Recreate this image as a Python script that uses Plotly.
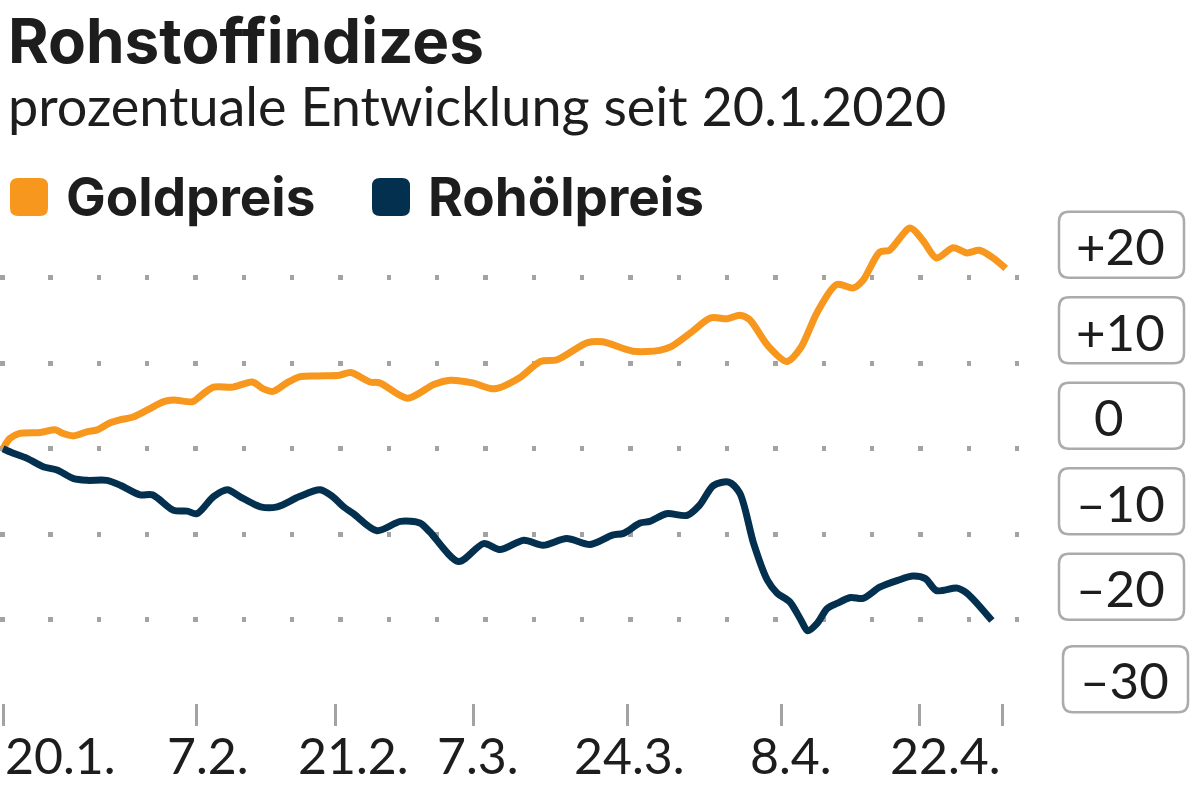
import plotly.graph_objects as go

# ---------------- data ----------------
title = "Rohstoffindizes"
subtitle = "prozentuale Entwicklung seit 20.1.2020"
series_names = ["Goldpreis", "Rohölpreis"]
series_colors = ["#F7971E", "#03304F"]

# x = trading-day index since 20.1.2020
gold_day = [0, 0.5, 1.2, 2.7, 3.8, 4.3, 5.1, 6.1, 6.8, 7.7, 8.5, 9.4, 10.4, 11.6, 12.3, 13.7,
            14.2, 15.2, 16.6, 18.0, 18.8, 19.5, 20.5, 21.4, 22.7, 24.3, 25.1, 26.5, 27.2, 29.2,
            31.1, 32.3, 33.9, 35.5, 37.3, 38.8, 40.0, 42.2, 43.3, 45.5, 47.4, 48.2, 49.6, 51.1,
            52.3, 53.2, 53.9, 55.2, 56.6, 57.6, 58.8, 60.2, 61.4, 62.1, 63.3, 64.0, 65.5, 66.4,
            67.4, 68.6, 69.6, 70.5, 71.5, 72.4]
gold_val = [0, 1.2, 1.8, 1.9, 2.2, 1.8, 1.5, 2.0, 2.2, 3.0, 3.4, 3.7, 4.5, 5.5, 5.7, 5.5,
            6.1, 7.2, 7.2, 7.8, 7.0, 6.7, 7.7, 8.4, 8.5, 8.6, 8.9, 7.8, 7.7, 5.9,
            7.5, 8.0, 7.7, 7.0, 8.3, 10.2, 10.4, 12.4, 12.5, 11.4, 11.5, 11.9, 13.5, 15.3,
            15.2, 15.6, 15.1, 12.1, 10.2, 11.8, 16.0, 19.2, 18.8, 19.7, 23.0, 23.2, 25.8, 24.4,
            22.3, 23.5, 22.9, 23.2, 22.3, 21.1]

oil_day = [0, 0.7, 1.7, 2.9, 3.9, 5.1, 6.1, 7.5, 8.5, 9.9, 10.8, 12.3, 13.3, 14.0, 15.2, 16.2,
           17.1, 18.6, 19.8, 21.4, 22.9, 23.8, 24.6, 25.3, 27.0, 28.7, 30.1, 30.8, 32.9, 34.7,
           35.9, 37.6, 39.0, 40.7, 42.4, 44.0, 44.8, 46.0, 46.7, 47.9, 49.4, 50.3, 51.3, 52.4,
           53.2, 54.2, 55.2, 55.9, 56.8, 57.6, 58.1, 58.8, 59.5, 60.2, 61.2, 62.1, 63.3, 64.6,
           65.7, 66.6, 67.4, 68.9, 69.6, 71.4]
oil_val = [0, -0.5, -1.1, -2.1, -2.5, -3.5, -3.7, -3.7, -4.3, -5.4, -5.4, -7.2, -7.3, -7.6, -5.6, -4.8,
           -5.6, -6.8, -6.8, -5.6, -4.8, -5.6, -6.8, -7.6, -9.6, -8.5, -8.7, -9.7, -13.2, -11.1,
           -11.8, -10.7, -11.3, -10.5, -11.2, -10.1, -9.9, -8.7, -8.5, -7.6, -7.8, -6.6, -4.3, -3.9,
           -5.2, -11.1, -15.4, -16.9, -17.9, -20.0, -21.3, -20.4, -18.7, -18.1, -17.4, -17.5, -16.2, -15.4,
           -14.9, -15.2, -16.6, -16.3, -16.9, -20.1]

y_ticks = [20, 10, 0, -10, -20, -30]
y_labels = ["+20", "+10", "0", "–10", "–20", "–30"]
x_tick_days = [0, 14, 24, 34, 45.1, 56.2, 66.2, 72.2]
x_label_days = [0, 14.8, 25.3, 34.3, 45.2, 56.9, 72.2]
x_labels = ["20.1.", "7.2.", "21.2.", "7.3.", "24.3.", "8.4.", "22.4."]

# ---------------- layout geometry ----------------
W, H = 1200, 811
PT, PW, PH = 218, 1020, 485
Y0, Y1 = -29.74, 26.98
X0, X1 = -0.217, 73.43
TXT = "#1d1d1d"
GRID = "#a3a3a3"


def pxx(px):
    return px / PW


def pxy(py):
    return (PT + PH - py) / PH


def vy(v):
    return (v - Y0) / (Y1 - Y0)


def rounded_rect(w, h, r, y0=0):
    y1 = y0 + h
    return (f"M {r},{y0} L {w-r},{y0} Q {w},{y0} {w},{y0+r} L {w},{y1-r} Q {w},{y1} {w-r},{y1} "
            f"L {r},{y1} Q 0,{y1} 0,{y1-r} L 0,{y0+r} Q 0,{y0} {r},{y0} Z")


fig = go.Figure()
for name, color, xs, ys in [(series_names[0], series_colors[0], gold_day, gold_val),
                            (series_names[1], series_colors[1], oil_day, oil_val)]:
    fig.add_trace(go.Scatter(x=xs, y=ys, mode="lines", name=name,
                             line=dict(color=color, width=7, shape="spline", smoothing=0.8),
                             showlegend=False, hoverinfo="skip"))

shapes = []
annotations = []

# title & subtitle
annotations.append(dict(text="<b>" + title + "</b>", xref="paper", yref="paper",
                        x=pxx(6), y=pxy(41), xanchor="left", yanchor="middle", showarrow=False,
                        font=dict(family="Inter", size=62, color=TXT)))
annotations.append(dict(text=subtitle, xref="paper", yref="paper",
                        x=pxx(6), y=pxy(106), xanchor="left", yanchor="middle", showarrow=False,
                        font=dict(family="Lato", size=54, color=TXT)))

# legend
leg_sq_x = [10, 372]
leg_txt_x = [64, 426]
for i in range(2):
    shapes.append(dict(type="path", xref="paper", yref="paper", xsizemode="pixel", ysizemode="pixel",
                       xanchor=pxx(leg_sq_x[i]), yanchor=pxy(216), path=rounded_rect(38, 38, 8),
                       fillcolor=series_colors[i], line=dict(width=0)))
    annotations.append(dict(text="<b>" + series_names[i] + "</b>", xref="paper", yref="paper",
                            x=pxx(leg_txt_x[i]), y=pxy(197), xanchor="left", yanchor="middle",
                            showarrow=False, font=dict(family="Inter", size=53, color=TXT)))

# y labels in rounded boxes
bw, bh, br = 125, 66, 10
for v, lab in zip(y_ticks, y_labels):
    last = (v == y_ticks[-1])
    bx = 1063 if last else 1059
    box_dy = -7 if last else 0
    txt_dy = -6 if last else 0
    shapes.append(dict(type="path", xref="paper", yref="paper", xsizemode="pixel", ysizemode="pixel",
                       xanchor=pxx(bx), yanchor=vy(v), path=rounded_rect(bw, bh, br, box_dy),
                       fillcolor="white", line=dict(color="#ababab", width=2.5)))
    tx = 1092 if lab == "0" else bx + 15
    annotations.append(dict(text=lab, xref="paper", yref="paper", x=pxx(tx), y=vy(v),
                            yshift=32 + txt_dy, xanchor="left", yanchor="middle", showarrow=False,
                            font=dict(family="Lato", size=51, color=TXT)))

# x labels
for i, (d, lab) in enumerate(zip(x_label_days, x_labels)):
    anchor = "left" if i == 0 else ("right" if i == len(x_labels) - 1 else "center")
    annotations.append(dict(text=lab, xref="x", yref="paper", x=d, y=pxy(755),
                            xanchor=anchor, yanchor="middle", showarrow=False,
                            font=dict(family="Lato", size=50, color=TXT)))

fig.update_layout(
    width=W, height=H, paper_bgcolor="white", plot_bgcolor="white",
    margin=dict(l=0, r=W - PW, t=PT, b=H - PT - PH, pad=0),
    shapes=shapes, annotations=annotations,
    xaxis=dict(range=[X0, X1], tickvals=x_tick_days, showticklabels=False, ticks="outside",
               ticklen=22, tickwidth=2.5, tickcolor=GRID, showgrid=False, zeroline=False,
               showline=False, fixedrange=True),
    yaxis=dict(range=[Y0, Y1], tickvals=y_ticks[:-1], showticklabels=False, ticks="",
               showgrid=True, gridcolor=GRID, gridwidth=4.5, griddash="4.5px,43.83px",
               zeroline=False, showline=False, fixedrange=True),
)

fig.write_html("out.html", config={"displayModeBar": False},
               post_script="document.body.style.margin='0';document.body.style.overflow='hidden';")
